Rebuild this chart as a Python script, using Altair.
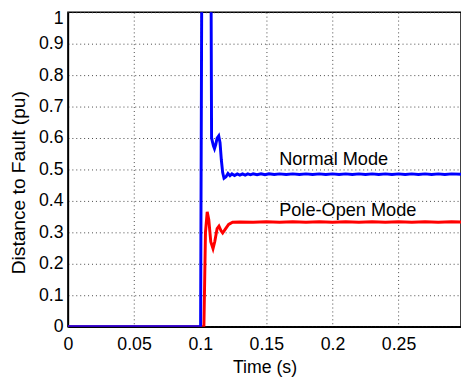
import altair as alt
import pandas as pd

# Normal Mode (blue) trace
normal_t = [0.0, 0.1003, 0.1016, 0.1078, 0.1086, 0.1100, 0.1108, 0.1118, 0.1128, 0.1140,
            0.1150, 0.1160, 0.1170, 0.1180, 0.1195, 0.1210, 0.1225, 0.1240, 0.1260, 0.1280,
            0.1300, 0.1320, 0.1340, 0.1360, 0.1380, 0.1400, 0.1430, 0.1460, 0.1490,
            0.1520, 0.1560, 0.1600, 0.1650, 0.1700, 0.1750, 0.1800, 0.1850, 0.1900, 0.1950,
            0.2000, 0.2050, 0.2100, 0.2150, 0.2200, 0.2250, 0.2300, 0.2350, 0.2400, 0.2450,
            0.2500, 0.2550, 0.2600, 0.2650, 0.2700, 0.2750, 0.2800, 0.2850, 0.2900, 0.2972]
normal_v = [0.0, 0.0, 1.60, 1.60, 0.60, 0.575, 0.566, 0.580, 0.600, 0.607,
            0.585, 0.530, 0.490, 0.472, 0.477, 0.487, 0.480, 0.486, 0.481, 0.486,
            0.482, 0.486, 0.482, 0.486, 0.483, 0.486, 0.483, 0.486, 0.483,
            0.486, 0.484, 0.486, 0.484, 0.486, 0.484, 0.486, 0.484, 0.486, 0.484,
            0.486, 0.484, 0.486, 0.484, 0.486, 0.484, 0.486, 0.484, 0.486, 0.484,
            0.486, 0.484, 0.486, 0.484, 0.486, 0.484, 0.486, 0.484, 0.486, 0.485]

# Pole-Open Mode (red) trace
pole_t = [0.0, 0.1028, 0.1040, 0.1053, 0.1065, 0.1080, 0.1097, 0.1110, 0.1128, 0.1142,
          0.1158, 0.1170, 0.1190, 0.1215, 0.1245, 0.1300, 0.1400, 0.1500, 0.1600, 0.1700,
          0.1800, 0.1900, 0.2000, 0.2100, 0.2200, 0.2300, 0.2400, 0.2500, 0.2600, 0.2700,
          0.2800, 0.2900, 0.2972]
pole_v = [0.0, 0.0, 0.300, 0.365, 0.340, 0.270, 0.248, 0.270, 0.312, 0.320,
          0.305, 0.298, 0.310, 0.325, 0.332, 0.333, 0.332, 0.334, 0.332, 0.334,
          0.332, 0.334, 0.332, 0.334, 0.332, 0.334, 0.332, 0.334, 0.332, 0.334,
          0.332, 0.334, 0.333]

# annotations
ann_text = ["Normal Mode", "Pole-Open Mode"]
ann_x = [0.1597, 0.1597]
ann_y = [0.513, 0.353]

x_ticks = [0, 0.05, 0.1, 0.15, 0.2, 0.25]
y_ticks = [0, 0.1, 0.2, 0.3, 0.4, 0.5, 0.6, 0.7, 0.8, 0.9, 1.0]

FONT = "Liberation Sans"

normal_df = pd.DataFrame({"t": normal_t, "v": normal_v})
pole_df = pd.DataFrame({"t": pole_t, "v": pole_v})
ann_df = pd.DataFrame({"text": ann_text, "t": ann_x, "v": ann_y})

xscale = alt.Scale(domain=[0, 0.2972], nice=False, zero=False)
yscale = alt.Scale(domain=[0, 1], nice=False)

xaxis = alt.Axis(values=x_ticks, format="~g", title="Time (s)", grid=True, ticks=False,
                 labelPadding=23, labelBaseline="alphabetic",
                 titleBaseline="alphabetic", titleY=47, titleAlign="center")
yaxis = alt.Axis(values=y_ticks, format="~g", title="Distance to Fault (pu)", grid=True,
                 ticks=False, labelPadding=5, tickCount=11,
                 labelOffset={"condition": {"test": "datum.value === 1", "value": 6}, "value": 0},
                 titleX=-50, titleY=173, titleAngle=270, titleAlign="center",
                 titleBaseline="middle", titleFontSize=19.5)

base_x = alt.X("t:Q", scale=xscale, axis=xaxis)
base_y = alt.Y("v:Q", scale=yscale, axis=yaxis)

red = alt.Chart(pole_df).mark_line(color="#ff0000", strokeWidth=3, clip=True).encode(
    x=base_x, y=base_y, order="t:Q")
blue = alt.Chart(normal_df).mark_line(color="#0000ff", strokeWidth=3, clip=True).encode(
    x=base_x, y=base_y, order="t:Q")
texts = alt.Chart(ann_df).mark_text(align="left", baseline="alphabetic", fontSize=18.5,
                                    font=FONT, color="black").encode(
    x=base_x, y=base_y, text="text:N")

chart = alt.layer(red, blue, texts).properties(
    width=400, height=320,
    autosize=alt.AutoSizeParams(type="none"),
    padding={"left": 61, "top": 1, "right": 0, "bottom": 54},
).configure_view(
    stroke="black", strokeWidth=1.5
).configure_axis(
    labelFont=FONT, titleFont=FONT, labelFontSize=18, titleFontSize=18,
    labelColor="black", titleColor="black", titleFontWeight="normal",
    domainColor="black", domainWidth=1.5,
    gridColor="#444444", gridDash=[1, 3], gridWidth=1, gridOpacity=1,
    labelFlush=False, labelOverlap=False
)

chart.save("out.html", embed_options={"renderer": "svg", "actions": False})
